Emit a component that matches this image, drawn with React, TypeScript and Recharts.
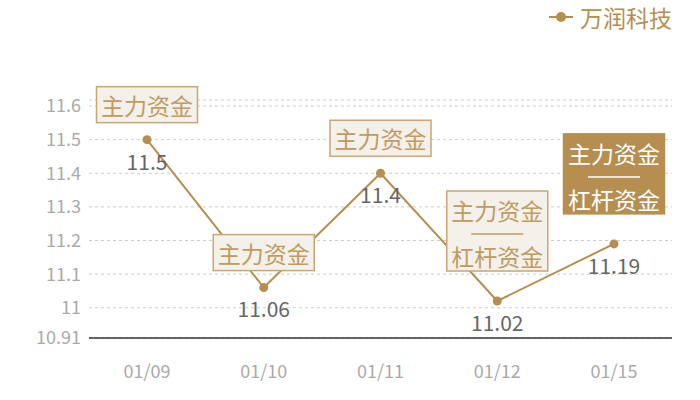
import React from "react";
import {
  LineChart,
  Line,
  XAxis,
  YAxis,
  CartesianGrid,
  LabelList,
} from "recharts";

const dates = ["01/09", "01/10", "01/11", "01/12", "01/15"];
const prices = [11.5, 11.06, 11.4, 11.02, 11.19];
const noteLines = [
  ["主力资金"],
  ["主力资金"],
  ["主力资金"],
  ["主力资金", "杠杆资金"],
  ["主力资金", "杠杆资金"],
];
const noteDark = [false, false, false, false, true];
const yTicks = [10.91, 11, 11.1, 11.2, 11.3, 11.4, 11.5, 11.6, 11.618];

const GOLD = "#b58e50";
const FONT = "'Noto Sans CJK SC', 'Noto Sans', sans-serif";

const data = dates.map((d, i) => ({
  date: d,
  price: prices[i],
  note: noteLines[i],
  dark: noteDark[i],
}));

// annotation box above each point, drawn in place of the dot
const NoteDot = (props: any) => {
  const { cx, cy, payload, index } = props;
  const lines: string[] = payload.note;
  const multi = lines.length > 1;
  const w = 101;
  const h = multi ? 80 : 36;
  const gap = multi ? 30 : 17;
  const top = cy - gap - h;
  const left = cx - w / 2;
  const dark = payload.dark;
  const txt = dark ? "#ffffff" : "#c09b60";
  const rows = multi ? [19, 65] : [18];
  return (
    <g key={`note-${index}`}>
      <rect
        x={left}
        y={top}
        width={w}
        height={h}
        fill={dark ? GOLD : "#f4f0ea"}
        stroke={dark ? GOLD : "#c9a772"}
        strokeWidth={1.5}
      />
      {lines.map((t, k) => (
        <text
          key={k}
          x={cx}
          y={top + rows[k]}
          textAnchor="middle"
          dominantBaseline="central"
          fontSize={23}
          fontFamily={FONT}
          fill={txt}
        >
          {t}
        </text>
      ))}
      {multi && (
        <line
          x1={cx - 26}
          x2={cx + 26}
          y1={top + 43}
          y2={top + 43}
          stroke={txt}
          strokeWidth={1.5}
        />
      )}
      <circle cx={cx} cy={cy} r={4.5} fill={GOLD} />
    </g>
  );
};

export default function App() {
  return (
    <div
      style={{
        position: "absolute",
        left: 0,
        top: 0,
        width: 700,
        height: 400,
        background: "#fff",
        fontFamily: FONT,
      }}
    >
      <div
        style={{
          position: "absolute",
          left: 547,
          top: 0,
          display: "flex",
          alignItems: "center",
          color: GOLD,
          fontSize: 23,
          zIndex: 2,
        }}
      >
        <svg width={28} height={20} style={{ marginRight: 5 }}>
          <line x1={2} y1={10} x2={26} y2={10} stroke={GOLD} strokeWidth={2} />
          <circle cx={14} cy={10} r={5} fill={GOLD} />
        </svg>
        <span>万润科技</span>
      </div>
      <LineChart
        width={700}
        height={400}
        data={data}
        margin={{ top: 100, right: 28, bottom: 32, left: 0 }}
      >
        <CartesianGrid
          vertical={false}
          stroke="#cccccc"
          strokeDasharray="3 3"
        />
        <XAxis
          dataKey="date"
          padding={{ left: 58, right: 58 }}
          axisLine={{ stroke: "#333333", strokeWidth: 1.5 }}
          tickLine={false}
          tickMargin={21}
          height={30}
          tick={{ fill: "#aaaaaa", fontSize: 18, fontFamily: FONT }}
        />
        <YAxis
          type="number"
          domain={[10.91, 11.618]}
          ticks={yTicks}
          interval={0}
          width={89}
          axisLine={false}
          tickLine={false}
          tickFormatter={(v: number) => (v > 11.61 ? "" : String(v))}
          tick={{ fill: "#aaaaaa", fontSize: 18, fontFamily: FONT }}
        />
        <Line
          type="linear"
          dataKey="price"
          stroke={GOLD}
          strokeWidth={2}
          dot={NoteDot}
          activeDot={false}
          isAnimationActive={false}
        >
          <LabelList
            dataKey="price"
            position="bottom"
            offset={15}
            fill="#666666"
            fontSize={21}
            fontFamily={FONT}
          />
        </Line>
      </LineChart>
    </div>
  );
}
